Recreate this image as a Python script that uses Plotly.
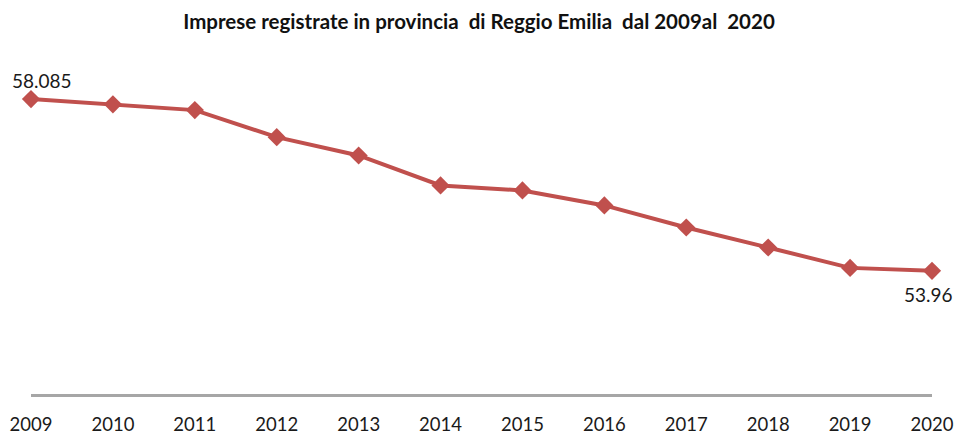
import plotly.graph_objects as go

years = [2009, 2010, 2011, 2012, 2013, 2014, 2015, 2016, 2017, 2018, 2019, 2020]
imprese = [58.085, 57.96, 57.82, 57.17, 56.73, 56.01, 55.89, 55.53, 55.00, 54.52, 54.03, 53.96]
label_first = "58.085"
label_last = "53.96"
title_text = "Imprese registrate in provincia\u00a0 di Reggio Emilia\u00a0 dal 2009al\u00a0 2020"

RED = "#C0504D"
FONT = "Lato, 'Open Sans', sans-serif"

fig = go.Figure()
fig.add_trace(go.Scatter(
    x=years, y=imprese, mode="lines+markers",
    line=dict(color=RED, width=4),
    marker=dict(symbol="diamond", size=14, color=RED),
    hoverinfo="skip", showlegend=False, cliponaxis=False,
))

fig.add_annotation(x=years[0], y=imprese[0], text=label_first, showarrow=False,
                   xanchor="center", yanchor="bottom", xshift=11, yshift=5,
                   font=dict(family=FONT, size=19, color="#1a1a1a"))
fig.add_annotation(x=years[-1], y=imprese[-1], text=label_last, showarrow=False,
                   xanchor="center", yanchor="top", xshift=-4, yshift=-10,
                   font=dict(family=FONT, size=19, color="#1a1a1a"))

fig.update_layout(
    width=958, height=434,
    margin=dict(l=31, r=26, t=61, b=40, autoexpand=False),
    paper_bgcolor="white", plot_bgcolor="white",
    title=dict(text="<b>" + title_text + "</b>", x=0.5, xanchor="center",
               y=1 - 22 / 434, yanchor="middle",
               font=dict(family=FONT, size=20.5, color="#111111")),
    font=dict(family=FONT, size=18, color="#1a1a1a"),
    xaxis=dict(range=[years[0], years[-1]], tickmode="array", tickvals=years,
               ticktext=[str(y) for y in years], showgrid=False, zeroline=False,
               showline=True, linecolor="#A6A6A6", linewidth=3,
               ticks="", ticklabelstandoff=12, automargin=False,
               tickfont=dict(family=FONT, size=18.5, color="#1a1a1a")),
    yaxis=dict(range=[51, 59], visible=False, showgrid=False, zeroline=False,
               automargin=False),
)

fig.write_html("out.html", config={"displayModeBar": False},
               post_script="document.body.style.margin='0';document.body.style.overflow='hidden';")
